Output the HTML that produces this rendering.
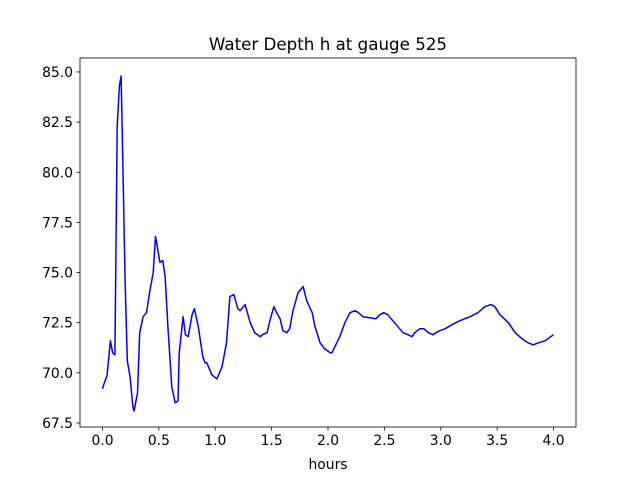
<!DOCTYPE html>
<html><head><meta charset="utf-8"><style>
body{margin:0;background:#fff;}
svg text{font-family:"DejaVu Sans","Liberation Sans",sans-serif;fill:#000;}
</style></head><body>
<svg width="640" height="480" viewBox="0 0 640 480" id="chart">
<rect x="0" y="0" width="640" height="480" fill="#fff"/>
<text x="328" y="50" font-size="16.7" text-anchor="middle">Water Depth h at gauge 525</text>
<g id="plot"></g>
<text x="328" y="469" font-size="13.9" text-anchor="middle">hours</text>
</svg>
<script>
const times=[0,.01,.04,.07,.09,.11,.13,.15,.165,.18,.20,.22,.245,.27,.28,.31,.33,.36,.39,.42,.45,.47,.51,.535,.555,.58,.615,.645,.67,.68,.715,.735,.76,.795,.815,.85,.89,.91,.925,.97,1.015,1.06,1.10,1.13,1.165,1.20,1.22,1.265,1.31,1.35,1.40,1.42,1.46,1.485,1.52,1.545,1.575,1.60,1.635,1.66,1.69,1.735,1.78,1.81,1.86,1.885,1.93,1.97,2.02,2.035,2.06,2.105,2.15,2.195,2.24,2.27,2.31,2.37,2.425,2.46,2.495,2.53,2.575,2.62,2.665,2.71,2.745,2.77,2.815,2.85,2.89,2.93,2.99,3.04,3.10,3.17,3.26,3.33,3.39,3.445,3.48,3.525,3.60,3.66,3.72,3.775,3.82,3.865,3.925,4.0];
const depths=[69.2,69.4,69.85,71.6,71.0,70.9,82.3,84.3,84.8,80.6,74.8,70.6,69.8,68.3,68.1,69.0,72.0,72.8,73.0,74.1,75.0,76.8,75.5,75.6,74.8,72.3,69.3,68.5,68.6,71.0,72.8,71.9,71.8,72.9,73.2,72.3,70.8,70.5,70.5,69.9,69.7,70.3,71.5,73.8,73.9,73.2,73.1,73.4,72.5,72.0,71.8,71.9,72.0,72.6,73.3,73.0,72.7,72.1,72.0,72.2,73.1,74.0,74.3,73.6,73.0,72.3,71.5,71.2,71.0,71.0,71.3,71.8,72.5,73.0,73.1,73.0,72.8,72.75,72.7,72.9,73.0,72.9,72.6,72.3,72.0,71.9,71.8,72.0,72.2,72.2,72.0,71.9,72.1,72.2,72.4,72.6,72.8,73.0,73.3,73.4,73.3,72.9,72.5,72.0,71.7,71.5,71.4,71.5,71.6,71.9];
const xTicks=[0,0.5,1,1.5,2,2.5,3,3.5,4];
const xTickLabels=["0.0","0.5","1.0","1.5","2.0","2.5","3.0","3.5","4.0"];
const yTicks=[67.5,70,72.5,75,77.5,80,82.5,85];
const yTickLabels=["67.5","70.0","72.5","75.0","77.5","80.0","82.5","85.0"];
const L=80,R=576,T=58,B=427;
const x=t=>102.5+t*112.75;
const y=h=>423-(h-67.5)*20.06;
const ns="http://www.w3.org/2000/svg";
const g=document.getElementById('plot');
function mk(tag,attrs){const e=document.createElementNS(ns,tag);for(const k in attrs)e.setAttribute(k,attrs[k]);g.appendChild(e);return e;}
const line=mk('path',{d:times.map((t,i)=>(i?'L':'M')+x(t).toFixed(1)+','+y(depths[i]).toFixed(1)).join(''),fill:'none',stroke:'#0000ff','stroke-width':1.5,'stroke-linejoin':'round'});


const frame=mk('rect',{x:L,y:T,width:R-L,height:B-T,fill:'none',stroke:'#000','stroke-width':0.8});


xTicks.forEach((v,i)=>{
  const tk=mk('line',{x1:x(v),x2:x(v),y1:B,y2:B+3.5,stroke:'#000','stroke-width':0.8});
  
  
  const tx=mk('text',{x:x(v),y:B+18,'font-size':13.9,'text-anchor':'middle'});
  tx.textContent=xTickLabels[i];
  
  
});
yTicks.forEach((v,i)=>{
  const tk=mk('line',{x1:L-3.5,x2:L,y1:y(v),y2:y(v),stroke:'#000','stroke-width':0.8});
  
  
  const tx=mk('text',{x:L-7,y:y(v)+5,'font-size':13.9,'text-anchor':'end'});
  tx.textContent=yTickLabels[i];
  
  
});
</script>
</body></html>
